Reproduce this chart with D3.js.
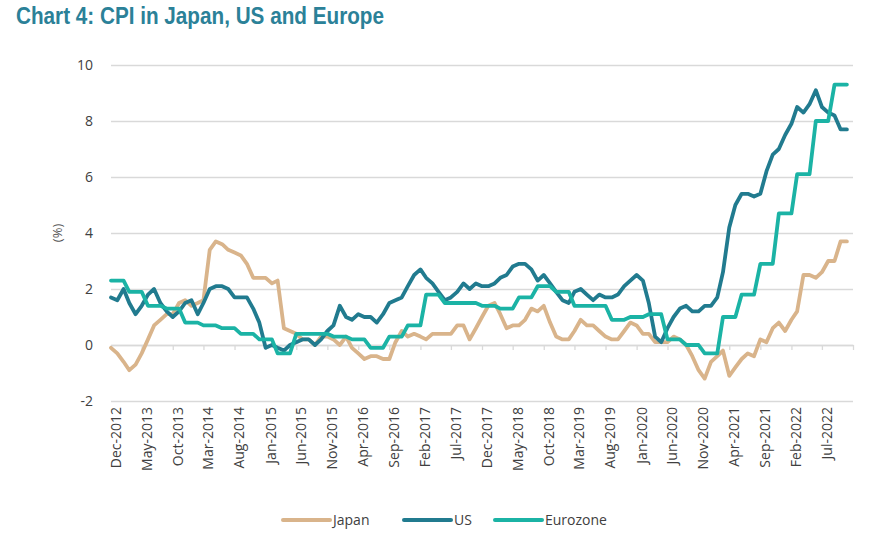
<!DOCTYPE html>
<html>
<head>
<meta charset="utf-8">
<script src="https://cdn.jsdelivr.net/npm/d3@7"></script>
<style>
  body { margin: 0; background: #fff; }
  svg { display: block; }
  .tick text { font-family: "Open Sans", sans-serif; }
</style>
</head>
<body>
<div id="chart"></div>
<script>
// monthly CPI, % y/y, Dec-2012 .. Nov-2022
const japan = [
  -0.1,
  -0.3, -0.6, -0.9, -0.7, -0.3, 0.2, 0.7, 0.9, 1.1, 1.1, 1.5, 1.6,
  1.4, 1.5, 1.6, 3.4, 3.7, 3.6, 3.4, 3.3, 3.2, 2.9, 2.4, 2.4,
  2.4, 2.2, 2.3, 0.6, 0.5, 0.4, 0.2, 0.2, 0.0, 0.3, 0.3, 0.2,
  0.0, 0.3, -0.1, -0.3, -0.5, -0.4, -0.4, -0.5, -0.5, 0.1, 0.5, 0.3,
  0.4, 0.3, 0.2, 0.4, 0.4, 0.4, 0.4, 0.7, 0.7, 0.2, 0.6, 1.0,
  1.4, 1.5, 1.1, 0.6, 0.7, 0.7, 0.9, 1.3, 1.2, 1.4, 0.8, 0.3,
  0.2, 0.2, 0.5, 0.9, 0.7, 0.7, 0.5, 0.3, 0.2, 0.2, 0.5, 0.8,
  0.7, 0.4, 0.4, 0.1, 0.1, 0.1, 0.3, 0.2, 0.0, -0.4, -0.9, -1.2,
  -0.6, -0.4, -0.2, -1.1, -0.8, -0.5, -0.3, -0.4, 0.2, 0.1, 0.6, 0.8,
  0.5, 0.9, 1.2, 2.5, 2.5, 2.4, 2.6, 3.0, 3.0, 3.7, 3.7
];
const us = [
  1.7,
  1.6, 2.0, 1.5, 1.1, 1.4, 1.8, 2.0, 1.5, 1.2, 1.0, 1.2, 1.5,
  1.6, 1.1, 1.5, 2.0, 2.1, 2.1, 2.0, 1.7, 1.7, 1.7, 1.3, 0.8,
  -0.1, 0.0, -0.1, -0.2, 0.0, 0.1, 0.2, 0.2, 0.0, 0.2, 0.5, 0.7,
  1.4, 1.0, 0.9, 1.1, 1.0, 1.0, 0.8, 1.1, 1.5, 1.6, 1.7, 2.1,
  2.5, 2.7, 2.4, 2.2, 1.9, 1.6, 1.7, 1.9, 2.2, 2.0, 2.2, 2.1,
  2.1, 2.2, 2.4, 2.5, 2.8, 2.9, 2.9, 2.7, 2.3, 2.5, 2.2, 1.9,
  1.6, 1.5, 1.9, 2.0, 1.8, 1.6, 1.8, 1.7, 1.7, 1.8, 2.1, 2.3,
  2.5, 2.3, 1.5, 0.3, 0.1, 0.6, 1.0, 1.3, 1.4, 1.2, 1.2, 1.4,
  1.4, 1.7, 2.6, 4.2, 5.0, 5.4, 5.4, 5.3, 5.4, 6.2, 6.8, 7.0,
  7.5, 7.9, 8.5, 8.3, 8.6, 9.1, 8.5, 8.3, 8.2, 7.7, 7.7
];
// quarterly figures held flat over the months
const eurozone = [
  2.3, 2.3, 2.3, 1.9, 1.9, 1.9, 1.4, 1.4, 1.4, 1.3, 1.3, 1.3,
  0.8, 0.8, 0.8, 0.7, 0.7, 0.7, 0.6, 0.6, 0.6, 0.4, 0.4, 0.4,
  0.2, 0.2, 0.2, -0.3, -0.3, -0.3, 0.4, 0.4, 0.4, 0.4, 0.4, 0.4,
  0.3, 0.3, 0.3, 0.2, 0.2, 0.2, -0.1, -0.1, -0.1, 0.3, 0.3, 0.3,
  0.7, 0.7, 0.7, 1.8, 1.8, 1.8, 1.5, 1.5, 1.5, 1.5, 1.5, 1.5,
  1.4, 1.4, 1.4, 1.3, 1.3, 1.3, 1.7, 1.7, 1.7, 2.1, 2.1, 2.1,
  1.9, 1.9, 1.9, 1.4, 1.4, 1.4, 1.4, 1.4, 1.4, 0.9, 0.9, 0.9,
  1.0, 1.0, 1.0, 1.1, 1.1, 1.1, 0.2, 0.2, 0.2, 0.0, 0.0, 0.0,
  -0.3, -0.3, -0.3, 1.0, 1.0, 1.0, 1.8, 1.8, 1.8, 2.9, 2.9, 2.9,
  4.7, 4.7, 4.7, 6.1, 6.1, 6.1, 8.0, 8.0, 8.0, 9.3, 9.3, 9.3
];
const tickLabels = ["Dec-2012","May-2013","Oct-2013","Mar-2014","Aug-2014","Jan-2015",
  "Jun-2015","Nov-2015","Apr-2016","Sep-2016","Feb-2017","Jul-2017","Dec-2017",
  "May-2018","Oct-2018","Mar-2019","Aug-2019","Jan-2020","Jun-2020","Nov-2020",
  "Apr-2021","Sep-2021","Feb-2022","Jul-2022"];
const yTicks = [-2, 0, 2, 4, 6, 8, 10];

const series = [
  {name: "Japan", values: japan, color: "#d9b48b"},
  {name: "US", values: us, color: "#217b8f"},
  {name: "Eurozone", values: eurozone, color: "#1bb3a5"}
];

const W = 896, H = 542;
const start = new Date(2012, 11, 1), end = new Date(2022, 11, 1);
const months = d3.timeMonth.range(start, end);
const parse = d3.timeParse("%b-%Y");

const x = d3.scaleTime().domain([start, end]).range([111, 853]);
const y = d3.scaleLinear().domain([-2, 10]).range([401, 65]);

const svg = d3.select("#chart").append("svg")
  .attr("width", W).attr("height", H);

svg.append("text")
  .attr("x", 16).attr("y", 24)
  .attr("font-family", "'Liberation Sans Narrow', 'Arial Narrow', 'Liberation Sans', sans-serif")
  .attr("font-weight", "bold")
  .attr("font-size", 23.5)
  .attr("fill", "#2b8198")
  .attr("textLength", 368)
  .attr("lengthAdjust", "spacingAndGlyphs")
  .text("Chart 4: CPI in Japan, US and Europe");

// gridlines + y labels
const yAxis = svg.append("g")
  .attr("transform", "translate(111,0)")
  .call(d3.axisLeft(y).tickValues(yTicks).tickSize(-742).tickPadding(18).tickFormat(d => String(d)));
yAxis.select(".domain").remove();
yAxis.selectAll(".tick line").attr("stroke", "#d9d9d9").attr("stroke-width", 1.3);
yAxis.selectAll(".tick text").attr("font-size", 14).attr("fill", "#404040");

svg.append("text")
  .attr("transform", "translate(62,233) rotate(-90)")
  .attr("text-anchor", "middle")
  .attr("font-family", "'Open Sans', sans-serif")
  .attr("font-size", 13)
  .attr("fill", "#595959")
  .text("(%)");

// category axis crossing at zero
const tickDates = tickLabels.map(parse).concat([end]);
const xAxis = svg.append("g")
  .attr("transform", `translate(0,${y(0)})`)
  .call(d3.axisBottom(x).tickValues(tickDates).tickSize(5).tickSizeOuter(0).tickFormat(""));
xAxis.select(".domain").attr("stroke", "#d9d9d9").attr("stroke-width", 1.3);
xAxis.selectAll(".tick line").attr("stroke", "#d9d9d9").attr("stroke-width", 1.3);

svg.append("g").selectAll("text")
  .data(tickLabels)
  .join("text")
  .attr("transform", d => `translate(${x(parse(d)) + 5},407) rotate(-90)`)
  .attr("text-anchor", "end")
  .attr("dy", "0.35em")
  .attr("font-family", "'Open Sans', sans-serif")
  .attr("font-size", 14)
  .attr("fill", "#404040")
  .text(d => d);

const line = d3.line()
  .x((d, i) => x(months[i]))
  .y(d => y(d));

svg.append("g").selectAll("path")
  .data(series)
  .join("path")
  .attr("d", d => line(d.values))
  .attr("fill", "none")
  .attr("stroke", d => d.color)
  .attr("stroke-width", 3.8)
  .attr("stroke-linejoin", "round")
  .attr("stroke-linecap", "round");

// legend
const legendX = [283, 404, 495];
const lg = svg.append("g").selectAll("g")
  .data(series)
  .join("g")
  .attr("transform", (d, i) => `translate(${legendX[i]},520)`);
lg.append("line")
  .attr("x1", 0).attr("x2", 47)
  .attr("stroke", d => d.color)
  .attr("stroke-width", 4)
  .attr("stroke-linecap", "round");
lg.append("text")
  .attr("x", 50).attr("dy", "0.35em")
  .attr("font-family", "'Open Sans', sans-serif")
  .attr("font-size", 14)
  .attr("fill", "#404040")
  .text(d => d.name);
</script>
</body>
</html>
